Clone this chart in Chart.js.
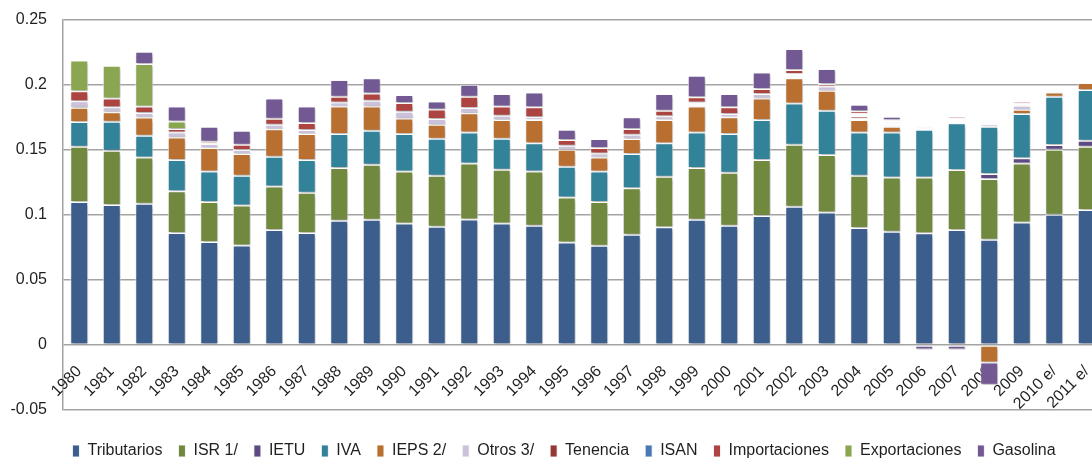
<!DOCTYPE html>
<html>
<head>
<meta charset="utf-8">
<script src="https://cdn.jsdelivr.net/npm/chart.js@4.4.1/dist/chart.umd.min.js"></script>
<style>
    html, body { margin: 0; padding: 0; background: #ffffff; overflow: hidden; }
    #wrap { position: relative; width: 1128px; height: 469px; }
</style>
</head>
<body>
<div id="wrap"><canvas id="ingresosChart"></canvas></div>
<script>
        // ===== 数据 (proporción del PIB) =====
        const years = ["1980", "1981", "1982", "1983", "1984", "1985", "1986", "1987", "1988", "1989",
            "1990", "1991", "1992", "1993", "1994", "1995", "1996", "1997", "1998", "1999",
            "2000", "2001", "2002", "2003", "2004", "2005", "2006", "2007", "2008", "2009",
            "2010 e/", "2011 e/"];

        const tributarios = [0.110, 0.1077, 0.1087, 0.0862, 0.0792, 0.0766, 0.0885, 0.0862, 0.0956, 0.0964,
            0.0935, 0.091, 0.0966, 0.0935, 0.0918, 0.0789, 0.0764, 0.0848, 0.0905, 0.0964,
            0.0918, 0.0992, 0.1064, 0.102, 0.090, 0.0872, 0.0859, 0.0885, 0.081, 0.0943,
            0.1002, 0.1038];
        const isr = [0.0425, 0.0418, 0.0356, 0.032, 0.0308, 0.0308, 0.0335, 0.031, 0.0406, 0.0423,
            0.040, 0.0392, 0.0431, 0.0413, 0.0417, 0.0346, 0.0336, 0.0357, 0.039, 0.0398,
            0.0407, 0.0431, 0.0477, 0.0442, 0.0402, 0.0417, 0.043, 0.0461, 0.0467, 0.0454,
            0.050, 0.0487];
        const ietu = [0, 0, 0, 0, 0, 0, 0, 0, 0, 0,
            0, 0, 0, 0, 0, 0, 0, 0, 0, 0,
            0, 0, 0, 0, 0, 0, 0, 0, 0.0038, 0.0039,
            0.0036, 0.0047];
        const iva = [0.019, 0.0223, 0.0167, 0.0241, 0.0235, 0.0228, 0.0228, 0.0251, 0.0261, 0.0261,
            0.0288, 0.0285, 0.0238, 0.0239, 0.0216, 0.0237, 0.0235, 0.0264, 0.0256, 0.0273,
            0.0298, 0.0308, 0.0317, 0.034, 0.0333, 0.0346, 0.0367, 0.0359, 0.0364, 0.0341,
            0.0372, 0.039];
        const ieps = [0.011, 0.0072, 0.014, 0.0174, 0.018, 0.0167, 0.0211, 0.020, 0.0212, 0.0187,
            0.012, 0.0108, 0.0147, 0.0144, 0.018, 0.013, 0.0108, 0.0116, 0.018, 0.020,
            0.0128, 0.0166, 0.0193, 0.0154, 0.0096, 0.0044, 0, 0, -0.0134, 0.0033,
            0.0033, 0.0053];
        const otros = [0.005, 0.0038, 0.0035, 0.0038, 0.0031, 0.0031, 0.0036, 0.0031, 0.0031, 0.0044,
            0.0051, 0.0044, 0.0041, 0.0033, 0.0021, 0.0031, 0.0031, 0.0033, 0.0028, 0.0015,
            0.0025, 0.0033, 0.0013, 0.0033, 0.0012, 0.0012, 0.0008, 0.001, 0.002, 0.0031,
            0.0008, 0];
        const tenencia = [0, 0, 0, 0, 0, 0, 0, 0, 0, 0,
            0, 0, 0, 0, 0, 0, 0, 0, 0, 0.001,
            0, 0, 0.0013, 0, 0.0018, 0.0015, 0.0008, 0.0015, 0.0012, 0.0008,
            0.0005, 0];
        const isan = [0, 0, 0, 0, 0, 0, 0, 0, 0, 0,
            0, 0, 0, 0, 0, 0, 0, 0, 0, 0.0005,
            0, 0, 0.0008, 0, 0.0015, 0.0008, 0, 0.0008, 0.0005, 0.0005,
            0.0003, 0];
        const importaciones = [0.0077, 0.0069, 0.005, 0.0027, 0.0018, 0.0041, 0.0046, 0.0054, 0.0044, 0.0056,
            0.0068, 0.0073, 0.0087, 0.0071, 0.0076, 0.0044, 0.0041, 0.0044, 0.0043, 0.004,
            0.0052, 0.0039, 0.003, 0.0019, 0.0022, 0.0015, 0.001, 0.0018, 0.0015, 0.0018,
            0.001, 0];
        const exportaciones = [0.0236, 0.0251, 0.0327, 0.0058, 0, 0, 0, 0, 0, 0,
            0, 0, 0, 0, 0, 0, 0, 0, 0, 0,
            0, 0, 0, 0, 0, 0, 0, 0, 0, 0,
            0, 0];
        const gasolina = [0, 0, 0.0094, 0.0115, 0.0115, 0.0107, 0.0156, 0.0127, 0.0128, 0.0116,
            0.0061, 0.0062, 0.0092, 0.0096, 0.0115, 0.0079, 0.007, 0.0089, 0.0129, 0.0167,
            0.0103, 0.0128, 0.0162, 0.0115, 0.0051, 0.0027, -0.0035, -0.0035, -0.0171, 0,
            0, 0];

        const yTicks = [-0.05, 0, 0.05, 0.1, 0.15, 0.2, 0.25];

        const series = [
            { label: "Tributarios", data: tributarios, color: "#3b5e8d" },
            { label: "ISR 1/", data: isr, color: "#71893f" },
            { label: "IETU", data: ietu, color: "#5d4a82" },
            { label: "IVA", data: iva, color: "#32829a" },
            { label: "IEPS 2/", data: ieps, color: "#b96f30" },
            { label: "Otros 3/", data: otros, color: "#cbc1da" },
            { label: "Tenencia", data: tenencia, color: "#953735" },
            { label: "ISAN", data: isan, color: "#4a78b5" },
            { label: "Importaciones", data: importaciones, color: "#ad4442" },
            { label: "Exportaciones", data: exportaciones, color: "#8ba650" },
            { label: "Gasolina", data: gasolina, color: "#735993" }
        ];

        const FONT = "'Liberation Sans', Arial, sans-serif";
        const TEXT = "#1f1f1f";
        const GRID = "#a3a3a3";

        // 柱子的柔和阴影
        const barShadow = {
            id: "barShadow",
            beforeDatasetsDraw(chart) {
                const c = chart.ctx;
                c.save();
                c.shadowColor = "rgba(0,0,0,0.32)";
                c.shadowBlur = 3;
                c.shadowOffsetX = 1;
                c.shadowOffsetY = 2;
            },
            afterDatasetsDraw(chart) {
                chart.ctx.restore();
            }
        };

        // 不显示的占位轴，用来留出空白
        const spacer = (position, size) => ({
            type: "linear",
            position: position,
            grid: { display: false },
            border: { display: false },
            ticks: { display: false },
            afterFit(scale) {
                if (position === "right") scale.width = size;
                else scale.height = size;
            }
        });

        const ctx = document.getElementById("ingresosChart").getContext("2d");
        const ingresosChart = new Chart(ctx, {
            type: "bar",
            data: {
                labels: years,
                datasets: series.map(s => ({
                    label: s.label,
                    data: s.data,
                    backgroundColor: s.color,
                    borderColor: "rgba(255,255,255,0.85)",
                    borderWidth: 1,
                    borderSkipped: false,
                    categoryPercentage: 0.8,
                    barPercentage: 0.69,
                    xAxisID: "x",
                    yAxisID: "y"
                }))
            },
            options: {
                responsive: true,
                maintainAspectRatio: false,
                animation: false,
                layout: { padding: { left: 0, top: 20, right: 0, bottom: 0 } },
                plugins: {
                    tooltip: { enabled: false },
                    legend: {
                        position: "bottom",
                        labels: {
                            boxWidth: 7,
                            boxHeight: 12,
                            padding: 16,
                            color: TEXT,
                            font: { family: FONT, size: 16 }
                        }
                    }
                },
                scales: {
                    y: {
                        stacked: true,
                        min: -0.05,
                        max: 0.25,
                        afterBuildTicks(scale) {
                            scale.ticks = yTicks.map(v => ({ value: v }));
                        },
                        afterFit(scale) {
                            scale.width = 63;
                            scale.paddingTop = 0;
                            scale.paddingBottom = 0;
                        },
                        grid: { color: GRID, lineWidth: 1.5, drawTicks: false },
                        border: { display: true, color: GRID, width: 1.5 },
                        ticks: {
                            padding: 16,
                            color: TEXT,
                            font: { family: FONT, size: 16 },
                            callback: v => String(+v.toFixed(2))
                        }
                    },
                    x: {
                        stacked: true,
                        position: { y: 0 },
                        grid: { display: false },
                        border: { display: false },
                        ticks: {
                            autoSkip: false,
                            minRotation: 45,
                            maxRotation: 45,
                            padding: 9,
                            color: TEXT,
                            font: { family: FONT, size: 16 }
                        }
                    },
                    gapBottom: spacer("bottom", 17),
                    gapRight: spacer("right", 25)
                }
            },
            plugins: [barShadow]
        });
</script>
</body>
</html>
